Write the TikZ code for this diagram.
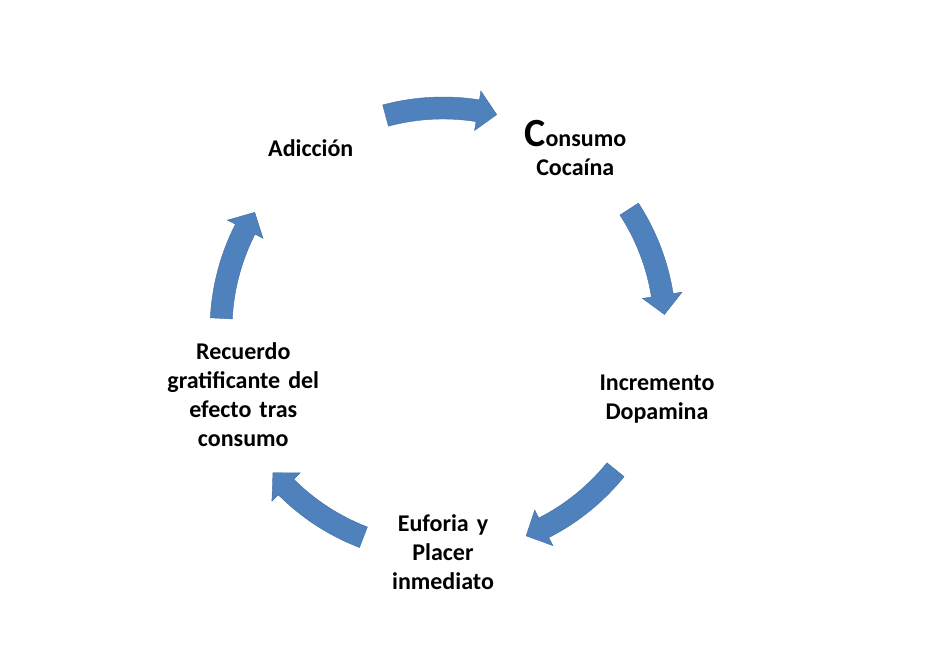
\documentclass[tikz,border=0pt]{standalone}
\usepackage{fontspec}
\setmainfont{Carlito}
\definecolor{cyc}{RGB}{79,129,189}
\begin{document}
\begin{tikzpicture}[x=1pt,y=1pt,
    lbl/.style={font=\bfseries\fontsize{24}{29}\selectfont,align=center,text width=200pt},
    cycarrow/.style={fill=cyc,draw=cyc!85!black,line width=0.4pt}]
  \useasboundingbox (0,-663) rectangle (934,0);
  \begin{scope}[shift={(443,-330)}]
    % arrows between the steps
    \foreach \m in {90,18,-54,-126,162}{
      \pgfmathsetmacro{\aa}{\m+15}
      \pgfmathsetmacro{\ab}{\m-9}
      \pgfmathsetmacro{\ac}{\m-14}
      \fill[cycarrow] (\aa:233) arc[start angle=\aa,end angle=\ab,radius=233]
        -- (\ab:242) -- (\ac:222) -- (\ab:202) -- (\ab:211)
        arc[start angle=\ab,end angle=\aa,radius=211] -- cycle;
    }
    % steps
    \node[lbl] (consumo) at (54:225) {{\fontsize{40}{34}\selectfont C}onsumo\\Cocaína};
    \node[lbl] (dopamina) at (-18:225) {Incremento\\Dopamina};
    \node[lbl] (euforia) at (-90:222) {Euforia y\\Placer\\inmediato};
    \node[lbl] (recuerdo) at (-162:210) {Recuerdo\\gratificante del\\efecto tras\\consumo};
    \node[lbl] (adiccion) at (126:225) {Adicción};
  \end{scope}
\end{tikzpicture}
\end{document}
